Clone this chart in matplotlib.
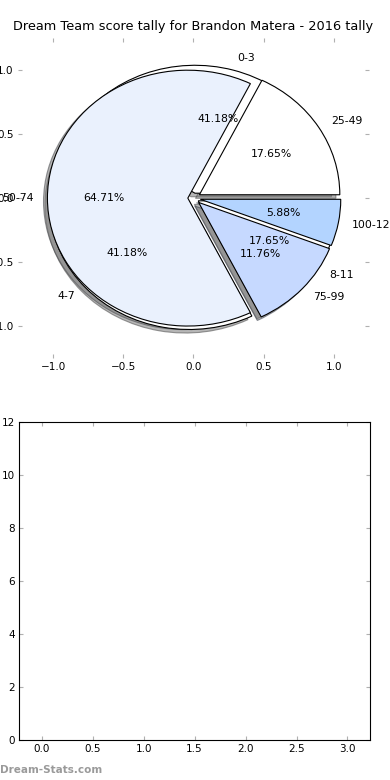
# coding: utf-8

import matplotlib
matplotlib.use('Agg')
from matplotlib import pyplot as plt
from matplotlib.patches import Shadow

## data
score_labels = ['25-49', '50-74', '75-99', '100-124']
score_counts = [3, 11, 2, 1]
score_colors = ['#ffffff', '#eaf1fd', '#c6d9ff', '#b3d4ff']

tally_labels = ['0-3', '4-7', '8-11']
tally_counts = [7, 7, 3]
tally_colors = ['#ffffff', '#ffffff', '#ffffff']

title = 'Dream Team score tally for Brandon Matera - 2016 tally'

TICK_GREY = '#b0b0b0'

fig = plt.figure(figsize=(3.9, 7.8), dpi=100)

## top: the two pies stacked on one another
ax1 = fig.add_axes([0.046, 0.541, 0.9, 0.41])
wedge_style = {'edgecolor': 'black', 'linewidth': 0.8}

ax1.pie(tally_counts, labels=tally_labels, colors=tally_colors,
        autopct='%1.2f%%', explode=[0.04] * len(tally_counts),
        shadow=True, wedgeprops=wedge_style,
        textprops={'fontsize': 7.8})
ax1.pie(score_counts, labels=score_labels, colors=score_colors,
        autopct='%1.2f%%', explode=[0.05, 0.04, 0.05, 0.05],
        shadow=True, wedgeprops=wedge_style,
        textprops={'fontsize': 7.8})

# lighter, old-style shadows
for p in ax1.patches:
    if isinstance(p, Shadow):
        p.set_facecolor('#7a7a7a')
        p.set_alpha(0.55)

ax1.set_aspect('auto')
ax1.set_xlim(-1.25, 1.25)
ax1.set_ylim(-1.25, 1.25)
ax1.set_xticks([-1.0, -0.5, 0.0, 0.5, 1.0])
ax1.set_yticks([-1.0, -0.5, 0.0, 0.5, 1.0])
ax1.set_frame_on(False)
ax1.tick_params(direction='in', length=3, color=TICK_GREY, labelsize=7.5,
                top=True, right=True, pad=3)
ax1.set_title(title, fontsize=9.3, pad=6)

## bottom: empty axes
ax2 = fig.add_axes([0.0495, 0.051, 0.899, 0.408])
ax2.set_xlim(-0.22, 3.22)
ax2.set_ylim(0, 12)
ax2.set_xticks([0.0, 0.5, 1.0, 1.5, 2.0, 2.5, 3.0])
ax2.set_yticks(range(0, 13, 2))
ax2.tick_params(direction='in', length=3, color=TICK_GREY, labelsize=7.5,
                top=True, right=True, pad=3)
for sp in ax2.spines.values():
    sp.set_linewidth(0.8)

# watermark
fig.text(0.0, 0.0128, 'Dream-Stats.com', fontsize=7.5, fontweight='bold',
         color='#9a9a9a', ha='left', va='center')

fig.savefig('out.png', dpi=100)
